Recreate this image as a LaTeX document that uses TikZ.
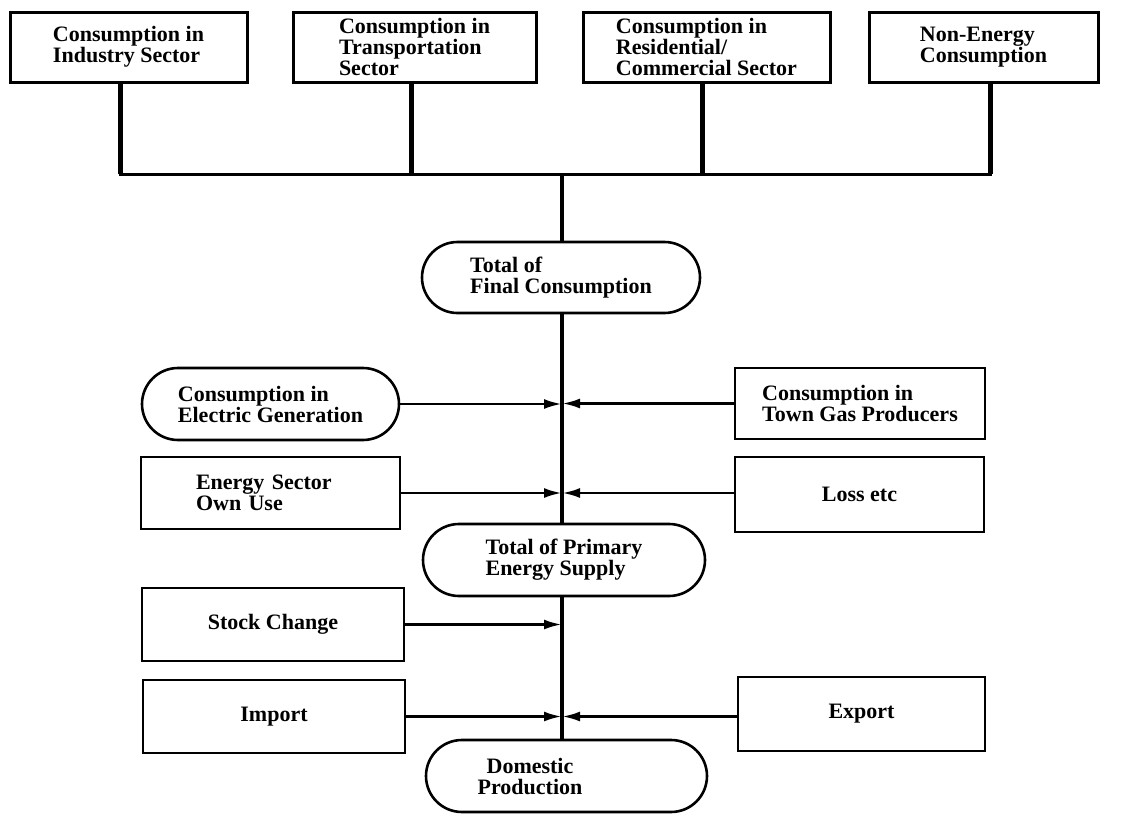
\documentclass[tikz,border=0pt]{standalone}
\usepackage{fontspec}
\setmainfont{Liberation Serif}
\usetikzlibrary{arrows.meta,shapes.misc}
\begin{document}
\begin{tikzpicture}[x=1pt,y=-1pt,
  lbl/.style={font=\fontsize{22}{21}\selectfont\bfseries, align=left, inner sep=0pt},
  topbox/.style={lbl, draw, line width=3pt, minimum height=70pt},
  box/.style={lbl, draw, line width=2.8pt},
  pill/.style={lbl, draw, rounded rectangle, line width=2.6pt},
  riser/.style={line width=5pt},
  bus/.style={line width=3pt},
  spine/.style={line width=3.6pt},
  flow/.style={line width=2.8pt, -{Latex[length=18pt,width=10pt]}}]
\useasboundingbox (0,0) rectangle (1125,817);

% sector consumption boxes
\node[topbox, minimum width=237pt] (ind) at (128.5,47) {Consumption in\\Industry Sector};
\node[topbox, minimum width=243pt] (trn) at (414.5,47) {Consumption in\\Transportation\\Sector};
\node[topbox, minimum width=247pt] (res) at (706.5,47) {Consumption in\\Residential/\\Commercial Sector};
\node[topbox, minimum width=229pt] (non) at (983.5,47) {Non-Energy\\Consumption};

% collecting bus
\coordinate (b1) at (120,174);
\coordinate (b2) at (411,174);
\coordinate (b3) at (702,174);
\coordinate (b4) at (990,174);
\coordinate (bm) at (562,174);

% balance nodes
\node[pill, minimum width=278pt, minimum height=71pt] (final) at (561,277.5) {Total of\\Final Consumption};
\node[pill, minimum width=282pt, minimum height=72pt] (primary) at (564,560) {Total of Primary\\Energy Supply};
\node[pill, minimum width=281pt, minimum height=72pt] (dom) at (566.5,776) {};
\node[lbl, align=center] (domtext) at (530,776) {Domestic\\Production};

% transformation and supply items
\node[pill, minimum width=257pt, minimum height=72pt] (elec) at (270.5,404) {Consumption in\\Electric Generation};
\node[box, minimum width=250pt, minimum height=71pt] (gas) at (860,403.5) {Consumption in\\Town Gas Producers};
\node[box, minimum width=259pt, minimum height=72pt, text width=149pt] (own) at (270.5,493) {Energy Sector\\Own Use};
\node[box, minimum width=249pt, minimum height=75pt] (loss) at (859.5,494.5) {Loss etc};
\node[box, minimum width=262pt, minimum height=73pt] (stock) at (273,624.5) {Stock Change};
\node[box, minimum width=262pt, minimum height=73pt] (imp) at (274,716.5) {Import};
\node[box, minimum width=247pt, minimum height=74pt] (exp) at (861.5,714) {Export};

% risers and bus
\draw[riser] (ind.south -| b1) -- (b1);
\draw[riser] (trn.south -| b2) -- (b2);
\draw[riser] (res.south -| b3) -- (b3);
\draw[riser] (non.south -| b4) -- (b4);
\draw[bus, line cap=rect] (b1) -- (b4);

% main spine
\draw[spine] (bm) -- (bm |- final.north);
\draw[spine] (bm |- final.south) -- (bm |- primary.north);
\draw[spine] (bm |- primary.south) -- (bm |- dom.north);

% inflows to the spine
\draw[flow] (elec.east) -- (elec.east -| bm);
\draw[flow] (gas.west) -- (gas.west -| bm);
\draw[flow] (own.east) -- (own.east -| bm);
\draw[flow] (loss.west |- own.east) -- (own.east -| bm);
\draw[flow] (stock.east) -- (stock.east -| bm);
\draw[flow] (imp.east) -- (imp.east -| bm);
\draw[flow] (exp.west |- imp.east) -- (imp.east -| bm);
\end{tikzpicture}
\end{document}
